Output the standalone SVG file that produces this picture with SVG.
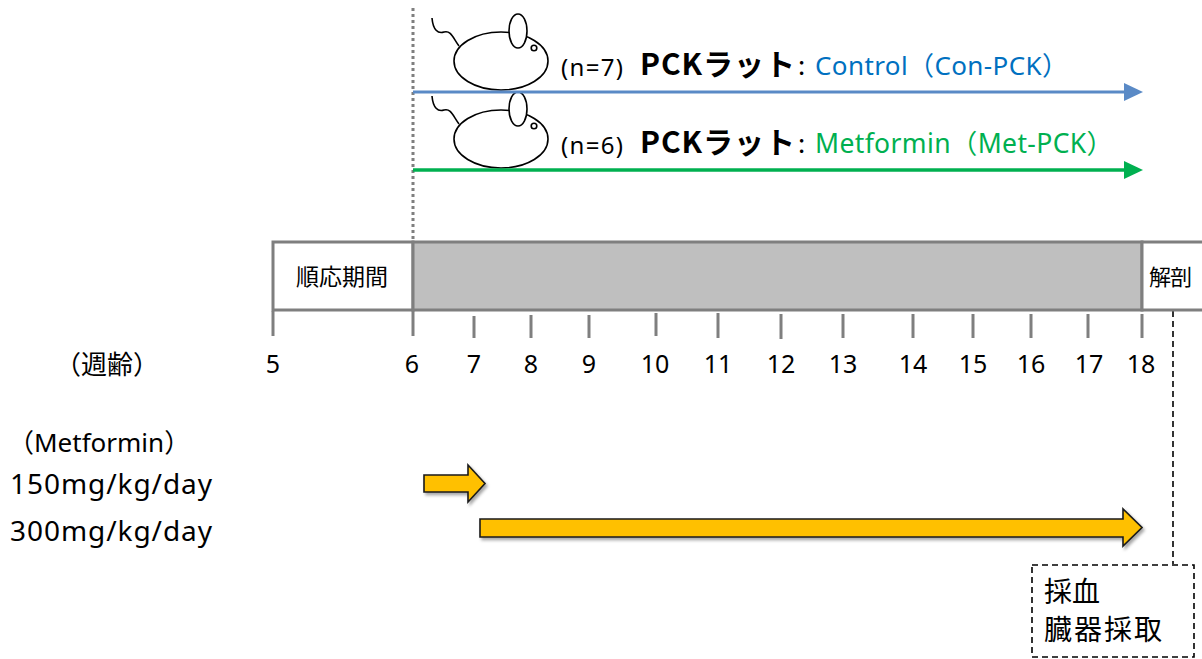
<svg xmlns="http://www.w3.org/2000/svg" width="1202" height="659" viewBox="0 0 1202 659">
  <style>
    .sans { font-family: "Noto Sans", "Noto Sans CJK JP", sans-serif; }
    .jp { font-family: "Noto Sans CJK JP", "Noto Sans", sans-serif; }
    .tick { stroke: #7f7f7f; stroke-width: 3; }
    .num { font-family: "Noto Sans", sans-serif; font-size: 25px; fill: #000; text-anchor: middle; }
    .rat { fill: #fff; stroke: #000; stroke-width: 1.6; }
    .dose { fill: #ffc000; stroke: #1a1a1a; stroke-width: 1.6; stroke-linejoin: miter; filter: url(#shadow); }
    .box { stroke: #7f7f7f; stroke-width: 3; }
  </style>
  <defs>
    <filter id="shadow" x="-10%" y="-30%" width="130%" height="180%">
      <feDropShadow dx="2" dy="2.5" stdDeviation="1.5" flood-color="#000" flood-opacity="0.35"/>
    </filter>
    <g id="ratShape">
      <path class="rat" d="M432,18 C433,30 438,34 444,32 C451,30 453,38 459,46" style="fill:none"/>
      <ellipse class="rat" cx="501" cy="61" rx="47" ry="29"/>
      <ellipse class="rat" cx="518" cy="31" rx="9" ry="17"/>
      <circle class="rat" cx="534" cy="48" r="2.8"/>
    </g>
  </defs>

  <rect width="1202" height="659" fill="#fff"/>

  <!-- start-of-treatment guide -->
  <line x1="413" y1="8" x2="413" y2="242" stroke="#7f7f7f" stroke-width="3" stroke-dasharray="3 3"/>

  <!-- group rows -->
  <g id="rat-control">
    <use href="#ratShape"/>
  </g>
  <g id="rat-metformin">
    <use href="#ratShape" transform="translate(0,78)"/>
  </g>

  <g id="connectors">
    <line x1="413" y1="92" x2="1126" y2="92" stroke="#5a8ac6" stroke-width="3"/>
    <polygon points="1124,83 1143,92 1124,101" fill="#5a8ac6"/>
    <line x1="413" y1="170" x2="1126" y2="170" stroke="#00b050" stroke-width="3.5"/>
    <polygon points="1124,161 1143,170 1124,179" fill="#00b050"/>
    <!-- dissection to sampling -->
    <line x1="1173" y1="311" x2="1173" y2="564" stroke="#000" stroke-width="1.6" stroke-dasharray="6 4"/>
  </g>

  <g id="label-control">
    <text class="sans" x="561" y="76" font-size="24" textLength="62">(n=7)</text>
    <text class="jp" x="640" y="75" font-size="30" font-weight="bold" textLength="155">PCKラット</text>
    <text class="jp" x="798" y="75" font-size="26">:</text>
    <text class="sans" x="815" y="75" font-size="26" fill="#0070c0" textLength="253">Control（Con-PCK）</text>
  </g>
  <g id="label-metformin">
    <text class="sans" x="561" y="154" font-size="24" textLength="62">(n=6)</text>
    <text class="jp" x="640" y="153" font-size="30" font-weight="bold" textLength="155">PCKラット</text>
    <text class="jp" x="798" y="153" font-size="26">:</text>
    <text class="sans" x="815" y="153" font-size="26.5" fill="#00b050" textLength="298">Metformin（Met-PCK）</text>
  </g>

  <!-- timeline bar -->
  <g id="phase-acclimation">
    <rect class="box" x="273" y="242" width="140" height="68" fill="#fff"/>
    <text class="jp" x="296" y="285" font-size="23" textLength="92">順応期間</text>
  </g>
  <g id="phase-treatment">
    <rect class="box" x="413" y="242" width="729" height="68" fill="#bfbfbf"/>
  </g>
  <g id="phase-dissection">
    <rect class="box" x="1142" y="242" width="62" height="68" fill="#fff"/>
    <text class="jp" x="1149" y="285" font-size="22" textLength="43">解剖</text>
  </g>

  <!-- week ticks -->
  <g id="ticks">
    <line class="tick" x1="273" y1="311" x2="273" y2="336"/>
    <line class="tick" x1="413" y1="311" x2="413" y2="336"/>
    <line class="tick" x1="474" y1="316" x2="474" y2="338"/>
    <line class="tick" x1="531" y1="315" x2="531" y2="338"/>
    <line class="tick" x1="589" y1="315" x2="589" y2="338"/>
    <line class="tick" x1="656" y1="313" x2="656" y2="336"/>
    <line class="tick" x1="718" y1="313" x2="718" y2="338"/>
    <line class="tick" x1="781" y1="314" x2="781" y2="339"/>
    <line class="tick" x1="843" y1="314" x2="843" y2="338"/>
    <line class="tick" x1="913" y1="314" x2="913" y2="338"/>
    <line class="tick" x1="973" y1="314" x2="973" y2="338"/>
    <line class="tick" x1="1031" y1="314" x2="1031" y2="338"/>
    <line class="tick" x1="1088" y1="314" x2="1088" y2="338"/>
    <line class="tick" x1="1142" y1="314" x2="1142" y2="338"/>
  </g>
  <g id="week-labels">
    <text class="jp" x="55" y="374" font-size="26">（週齢）</text>
    <text class="num" x="273" y="373">5</text>
    <text class="num" x="412" y="373">6</text>
    <text class="num" x="474" y="373">7</text>
    <text class="num" x="531" y="373">8</text>
    <text class="num" x="589" y="373">9</text>
    <text class="num" x="655" y="373">10</text>
    <text class="num" x="718" y="373">11</text>
    <text class="num" x="781" y="373">12</text>
    <text class="num" x="843" y="373">13</text>
    <text class="num" x="913" y="373">14</text>
    <text class="num" x="973" y="373">15</text>
    <text class="num" x="1031" y="373">16</text>
    <text class="num" x="1089" y="373">17</text>
    <text class="num" x="1141" y="373">18</text>
  </g>

  <!-- dosing -->
  <g id="dose-labels">
    <text class="sans" x="8" y="452" font-size="26">（Metformin）</text>
    <text class="sans" x="10" y="494" font-size="28" textLength="202">150mg/kg/day</text>
    <text class="sans" x="10" y="541" font-size="28" textLength="202">300mg/kg/day</text>
  </g>
  <g id="dose-150">
    <polygon class="dose" points="424,475 468,475 468,465 485,483.5 468,502 468,492 424,492"/>
  </g>
  <g id="dose-300">
    <polygon class="dose" points="480,519 1123,519 1123,509 1142,527.5 1123,546 1123,537 480,537"/>
  </g>

  <!-- sampling box -->
  <g id="sampling">
    <rect x="1032" y="565" width="162" height="92" fill="#fff" stroke="#000" stroke-width="1.6" stroke-dasharray="6 4"/>
    <text class="jp" x="1044" y="602" font-size="28">採血</text>
    <text class="jp" x="1044" y="640" font-size="28" textLength="118">臓器採取</text>
  </g>
</svg>
